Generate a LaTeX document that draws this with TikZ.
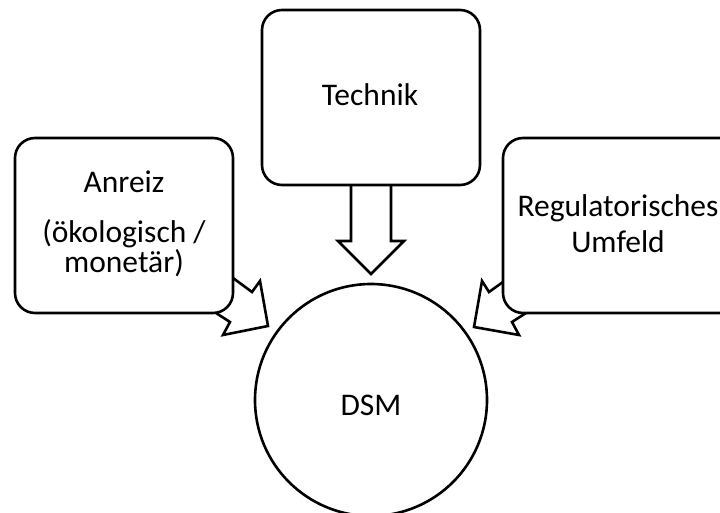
\documentclass[tikz,border=0pt]{standalone}
\usepackage{fontspec}
\setmainfont{Carlito}
\begin{document}
\begin{tikzpicture}[x=1pt,y=-1pt,
  boxstyle/.style={draw=black, line width=2.6pt, fill=white, rounded corners=20pt, inner sep=0pt},
  arrowstyle/.style={draw=black, line width=2.6pt, fill=white, line join=miter},
  lbl/.style={anchor=base, inner sep=0pt, font=\fontsize{31.5}{29}\selectfont, text=black}]
\clip (0,0) rectangle (720,513);
\useasboundingbox (0,0) rectangle (720,513);
% block arrows (drawn first, boxes cover their open ends)
\draw[arrowstyle] (233,278) -- (252,292) -- (260,281) -- (268,326) -- (223,335) -- (230,322) -- (216,313);
\draw[arrowstyle] (351,180) -- (351,241) -- (338,241) -- (371,274) -- (404,241) -- (391,241) -- (391,180);
\draw[arrowstyle] (503,282) -- (489,292) -- (482,281) -- (474,327) -- (519,335) -- (512,322) -- (526,313);
% boxes
\node[boxstyle, minimum width=218pt, minimum height=175pt] (anreiz) at (124,225.5) {};
\node[boxstyle, minimum width=218pt, minimum height=175pt] (technik) at (371,97.5) {};
\node[boxstyle, minimum width=237pt, minimum height=175pt] (regul) at (621.5,225.5) {};
\node[draw=black, line width=2.6pt, fill=white, circle, minimum size=232pt, inner sep=0pt] (dsm) at (371,400) {};
% texts
\node[lbl] (t1) at (124,193) {Anreiz};
\node[lbl] (t2) at (124,243) {(ökologisch /};
\node[lbl] (t3) at (124,272) {monetär)};
\node[lbl] (t4) at (370,106) {Technik};
\node[lbl] (t5) at (618,217) {Regulatorisches};
\node[lbl] (t6) at (618,252) {Umfeld};
\node[lbl] (t7) at (371,415) {DSM};
\end{tikzpicture}
\end{document}
